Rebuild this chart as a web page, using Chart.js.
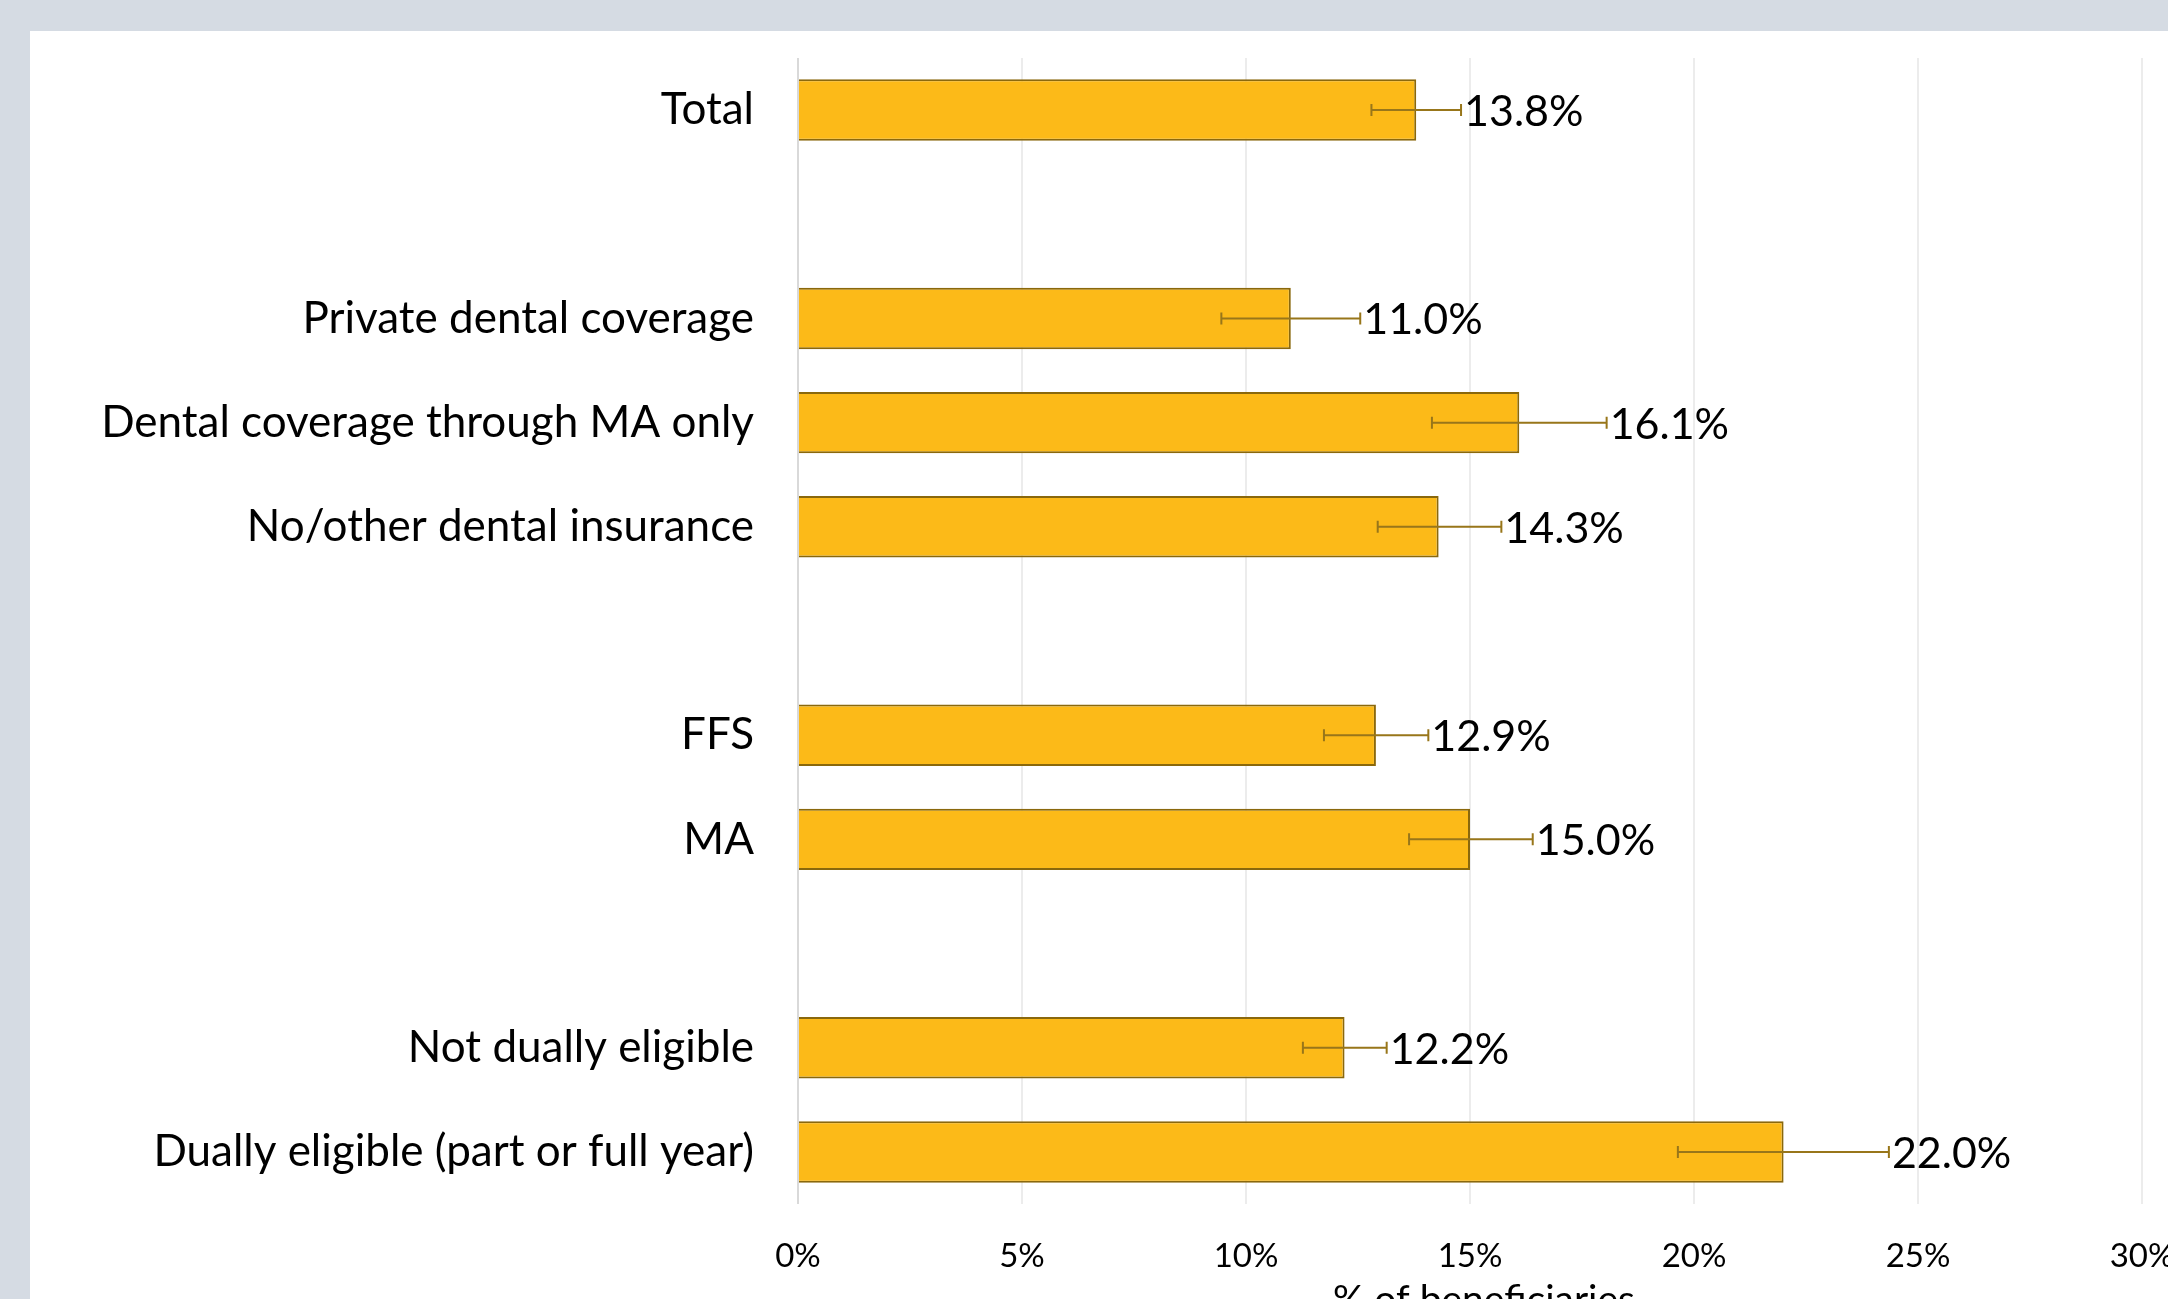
<!DOCTYPE html>
<html>
<head>
<meta charset="utf-8">
<script src="https://cdn.jsdelivr.net/npm/chart.js@4.4.1/dist/chart.umd.min.js"></script>
<style>
    html, body { margin: 0; padding: 0; overflow: hidden; background: #d5dbe3; }
    #panel { position: absolute; left: 30px; top: 31px; right: 0; bottom: 0; background: #ffffff; }
    #chartBox { position: absolute; left: 0; top: 0; width: 2400px; height: 1400px; }
</style>
</head>
<body>
<div id="panel"></div>
<div id="chartBox"><canvas id="dentalChart" width="2400" height="1400"></canvas></div>
<script>
// Categories (blank entries are the spacer rows between groups)
const categories = ['Total', '', 'Private dental coverage', 'Dental coverage through MA only',
    'No/other dental insurance', '', 'FFS', 'MA', '', 'Not dually eligible',
    'Dually eligible (part or full year)'];

// Share of beneficiaries, %
const values = [13.8, null, 11.0, 16.1, 14.3, null, 12.9, 15.0, null, 12.2, 22.0];

// Error bar ends (confidence interval), %
const errLow = [12.8, null, 9.45, 14.15, 12.94, null, 11.74, 13.64, null, 11.27, 19.64];
const errHigh = [14.8, null, 12.55, 18.05, 15.70, null, 14.07, 16.40, null, 13.14, 24.35];

// x axis tick values
const xTicks = [0, 5, 10, 15, 20, 25, 30];
const xTitle = '% of beneficiaries';

const FONT = 'Lato, "Open Sans", sans-serif';

// Draws the error bars, the value labels next to them and the x axis title
const errorBarsAndLabels = {
    id: 'errorBarsAndLabels',
    afterDatasetsDraw(chart) {
        const ctx = chart.ctx;
        const xScale = chart.scales.x;
        const meta = chart.getDatasetMeta(0);
        ctx.save();
        values.forEach((v, i) => {
            if (v === null) return;
            const bar = meta.data[i];
            const y = bar.y;
            const x1 = xScale.getPixelForValue(errLow[i]);
            const x2 = xScale.getPixelForValue(errHigh[i]);
            ctx.strokeStyle = '#98761a';
            ctx.lineWidth = 2;
            ctx.beginPath();
            ctx.moveTo(x1, y);
            ctx.lineTo(x2, y);
            ctx.moveTo(x1, y - 6);
            ctx.lineTo(x1, y + 6);
            ctx.moveTo(x2, y - 6);
            ctx.lineTo(x2, y + 6);
            ctx.stroke();

            ctx.fillStyle = '#000000';
            ctx.font = '43px ' + FONT;
            ctx.textAlign = 'left';
            ctx.textBaseline = 'middle';
            ctx.fillText(v.toFixed(1) + '%', x2 + 3, y + 2);
        });

        // axis title, a little right of the plot centre as in the original
        const area = chart.chartArea;
        ctx.font = '39px ' + FONT;
        ctx.textAlign = 'center';
        ctx.textBaseline = 'middle';
        ctx.fillText(xTitle, (area.left + area.right) / 2 + 14, area.bottom + 96);
        ctx.restore();
    }
};

function initializeDentalChart() {
    try {
        const ctx = document.getElementById('dentalChart').getContext('2d');
        new Chart(ctx, {
            type: 'bar',
            data: {
                labels: categories,
                datasets: [{
                    data: values,
                    backgroundColor: '#fcba18',
                    borderColor: '#8a680c',
                    borderWidth: 2,
                    barPercentage: 0.59,
                    categoryPercentage: 1.0
                }]
            },
            options: {
                indexAxis: 'y',
                responsive: false,
                animation: false,
                layout: {
                    padding: { left: 0, top: 58, right: 258, bottom: 46 }
                },
                plugins: {
                    legend: { display: false },
                    tooltip: { enabled: false }
                },
                scales: {
                    y: {
                        grid: { display: false },
                        border: { display: false },
                        ticks: {
                            padding: 36,
                            color: '#000000',
                            font: { family: FONT, size: 44 }
                        },
                        afterFit(scale) {
                            scale.width = 798;
                            // don't let the label padding push the plot down
                            scale.paddingTop = 0;
                            scale.paddingBottom = 0;
                        }
                    },
                    x: {
                        min: 0,
                        max: 30,
                        afterBuildTicks(scale) {
                            scale.ticks = xTicks.map(v => ({ value: v }));
                        },
                        grid: {
                            drawTicks: false,
                            lineWidth: 2,
                            color: (c) => c.index === 0 ? '#d9d9d9' : '#ececec'
                        },
                        border: { display: false },
                        ticks: {
                            padding: 33,
                            color: '#000000',
                            font: { family: FONT, size: 33 },
                            callback: (v) => v + '%'
                        },
                        afterFit(scale) { scale.height = 150; }
                    }
                }
            },
            plugins: [errorBarsAndLabels]
        });
    } catch (error) {
        console.error('Error initializing dental chart:', error);
    }
}

document.addEventListener('DOMContentLoaded', function() {
    initializeDentalChart();
});
</script>
</body>
</html>
